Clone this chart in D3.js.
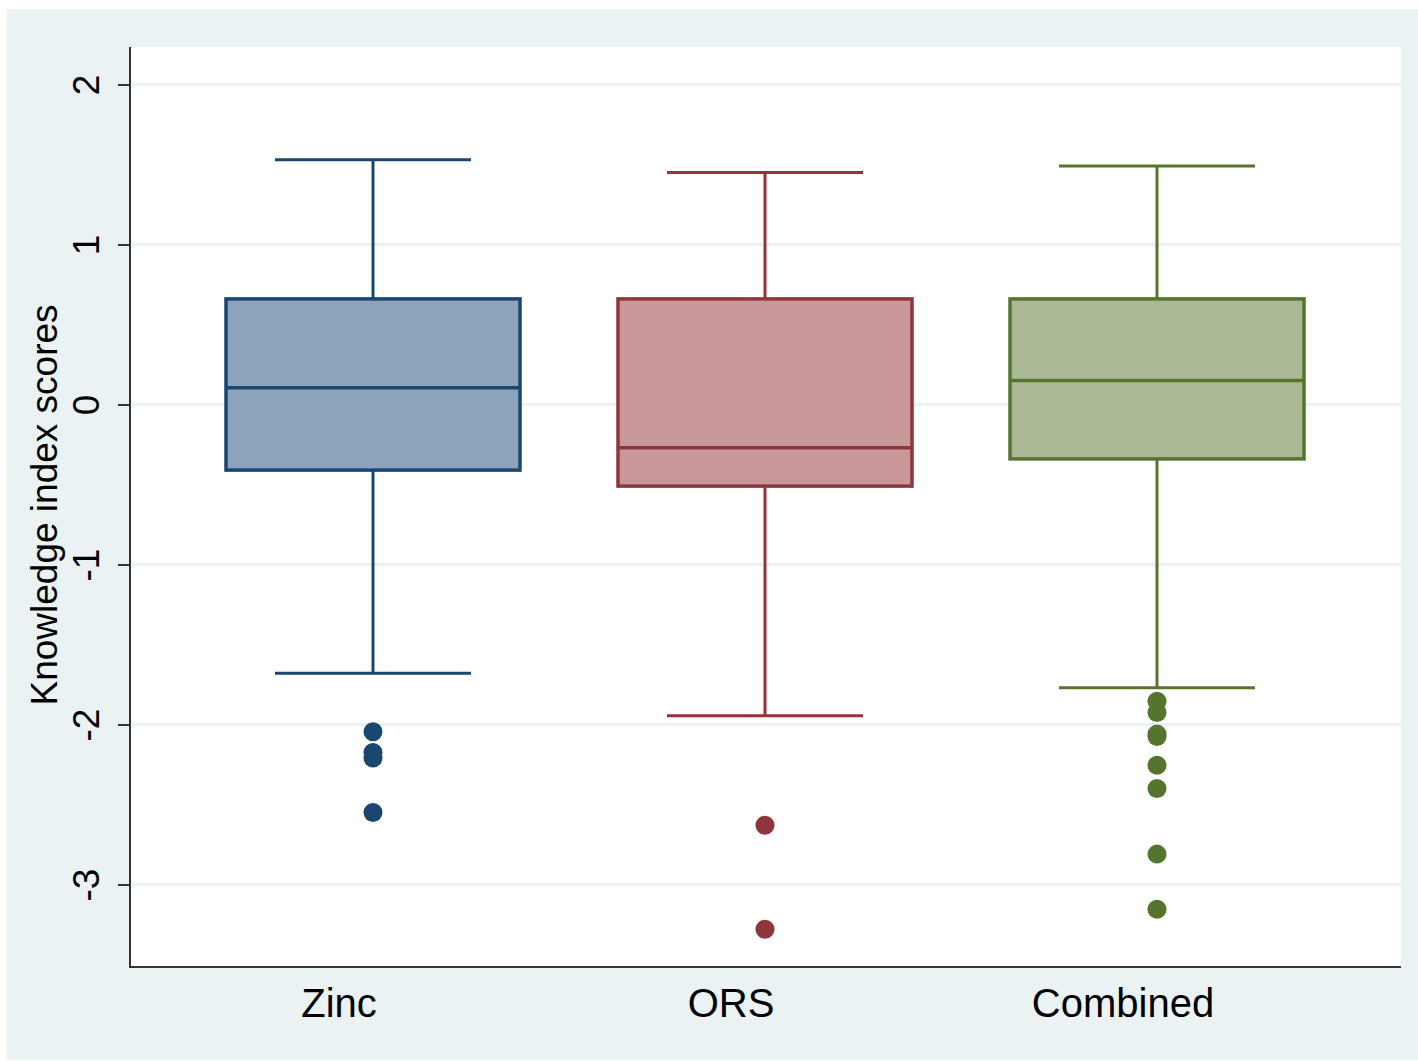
<!DOCTYPE html>
<html>
<head>
<meta charset="utf-8">
<script src="https://cdn.jsdelivr.net/npm/d3@7/dist/d3.min.js"></script>
<style>
  html, body { margin: 0; padding: 0; background: #fff; }
  text { font-family: "Liberation Sans", Arial, sans-serif; fill: #000; }
</style>
</head>
<body>
<svg id="chart"></svg>
<script>
// groups and their box summaries
var groups = [ 'Zinc', 'ORS', 'Combined' ];
var upperWhisker = [ 1.53, 1.45, 1.49 ];
var q3 = [ 0.66, 0.66, 0.66 ];
var median = [ 0.105, -0.27, 0.15 ];
var q1 = [ -0.41, -0.51, -0.34 ];
var lowerWhisker = [ -1.68, -1.945, -1.77 ];
var outliers = [
	[ -2.045, -2.175, -2.21, -2.55 ],
	[ -2.63, -3.28 ],
	[ -1.855, -1.925, -2.06, -2.075, -2.255, -2.40, -2.81, -3.155 ]
];
var yTicks = [ -3, -2, -1, 0, 1, 2 ];

var strokeColors = [ '#1a476f', '#90353b', '#55752f' ];
var fillColors = [ '#8ca3bb', '#c8989b', '#aab994' ];

var width = 1418, height = 1062;
var plot = { left: 130, right: 1401, top: 47, bottom: 967 };

var svg = d3.select( '#chart' )
	.attr( 'width', width )
	.attr( 'height', height );

// outer backdrop
svg.append( 'rect' )
	.attr( 'x', 7 ).attr( 'y', 9 )
	.attr( 'width', width - 7 ).attr( 'height', height - 11 )
	.attr( 'fill', '#eaf2f3' );

svg.append( 'rect' )
	.attr( 'x', plot.left ).attr( 'y', plot.top )
	.attr( 'width', plot.right - plot.left ).attr( 'height', plot.bottom - plot.top )
	.attr( 'fill', '#fff' );

var y = d3.scaleLinear()
	.domain( [ -3, 2 ] )
	.range( [ 884.5, 84.5 ] );

var x = d3.scaleBand()
	.domain( groups )
	.range( [ 226, 1304 ] )
	.paddingInner( 0.25 )
	.paddingOuter( 0 );

// grid lines
svg.append( 'g' ).selectAll( 'line' )
	.data( yTicks )
	.enter()
	.append( 'line' )
	.attr( 'x1', plot.left ).attr( 'x2', plot.right )
	.attr( 'y1', function ( d ) { return y( d ); } )
	.attr( 'y2', function ( d ) { return y( d ); } )
	.attr( 'stroke', '#eaf2f3' )
	.attr( 'stroke-width', 3 );

// y axis (plain hyphen for negatives, as in the original)
var yAxis = d3.axisLeft( y )
	.tickValues( yTicks )
	.tickSize( 12 )
	.tickPadding( 0 )
	.tickFormat( function ( d ) { return String( d ); } );

var yAxisG = svg.append( 'g' )
	.attr( 'transform', 'translate(' + plot.left + ',0)' )
	.call( yAxis );
yAxisG.select( '.domain' ).remove();
yAxisG.selectAll( '.tick line' ).attr( 'stroke', '#333' ).attr( 'stroke-width', 2 );
yAxisG.selectAll( '.tick text' )
	.attr( 'x', 0 ).attr( 'y', 0 ).attr( 'dy', 0 )
	.attr( 'transform', 'translate(-31,0) rotate(-90)' )
	.attr( 'text-anchor', 'middle' )
	.style( 'font-size', '37px' )
	.style( 'font-family', '"Liberation Sans", Arial, sans-serif' )
	.attr( 'fill', '#000' );

svg.append( 'line' )
	.attr( 'x1', plot.left ).attr( 'x2', plot.left )
	.attr( 'y1', plot.top ).attr( 'y2', plot.bottom )
	.attr( 'stroke', '#333' ).attr( 'stroke-width', 2 );
svg.append( 'line' )
	.attr( 'x1', plot.left - 1 ).attr( 'x2', plot.right )
	.attr( 'y1', plot.bottom ).attr( 'y2', plot.bottom )
	.attr( 'stroke', '#333' ).attr( 'stroke-width', 2 );

svg.append( 'text' )
	.attr( 'transform', 'translate(57,505) rotate(-90)' )
	.attr( 'text-anchor', 'middle' )
	.style( 'font-size', '37px' )
	.text( 'Knowledge index scores' );

// boxes
var boxes = svg.selectAll( '.box' )
	.data( groups )
	.enter()
	.append( 'g' )
	.attr( 'class', 'box' );

boxes.each( function ( name, i ) {
	var g = d3.select( this );
	var bw = x.bandwidth();
	var left = x( name );
	var cx = left + bw / 2;
	var capHalf = bw / 3;
	var c = strokeColors[i];

	// whiskers
	g.append( 'line' )
		.attr( 'x1', cx ).attr( 'x2', cx )
		.attr( 'y1', y( upperWhisker[i] ) ).attr( 'y2', y( q3[i] ) )
		.attr( 'stroke', c ).attr( 'stroke-width', 3 );
	g.append( 'line' )
		.attr( 'x1', cx ).attr( 'x2', cx )
		.attr( 'y1', y( q1[i] ) ).attr( 'y2', y( lowerWhisker[i] ) )
		.attr( 'stroke', c ).attr( 'stroke-width', 3 );
	[ upperWhisker[i], lowerWhisker[i] ].forEach( function ( v ) {
		g.append( 'line' )
			.attr( 'x1', cx - capHalf ).attr( 'x2', cx + capHalf )
			.attr( 'y1', y( v ) ).attr( 'y2', y( v ) )
			.attr( 'stroke', c ).attr( 'stroke-width', 3 );
	} );

	g.append( 'rect' )
		.attr( 'x', left ).attr( 'width', bw )
		.attr( 'y', y( q3[i] ) ).attr( 'height', y( q1[i] ) - y( q3[i] ) )
		.attr( 'fill', fillColors[i] )
		.attr( 'stroke', c ).attr( 'stroke-width', 3.5 );
	g.append( 'line' )
		.attr( 'x1', left ).attr( 'x2', left + bw )
		.attr( 'y1', y( median[i] ) ).attr( 'y2', y( median[i] ) )
		.attr( 'stroke', c ).attr( 'stroke-width', 3.5 );

	g.selectAll( 'circle' )
		.data( outliers[i] )
		.enter()
		.append( 'circle' )
		.attr( 'cx', cx )
		.attr( 'cy', function ( d ) { return y( d ); } )
		.attr( 'r', 9.5 )
		.attr( 'fill', c );

	g.append( 'text' )
		.attr( 'x', cx - 34 )
		.attr( 'y', 1017 )
		.attr( 'text-anchor', 'middle' )
		.style( 'font-size', '40px' )
		.text( name );
} );
</script>
</body>
</html>
